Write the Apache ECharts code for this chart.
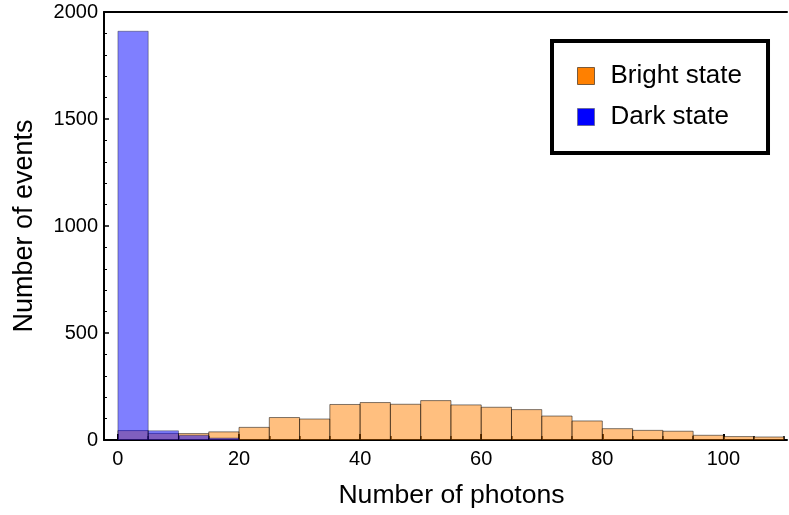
<!DOCTYPE html>
<html>
<head>
<meta charset="utf-8">
<script src="https://cdn.jsdelivr.net/npm/echarts@6/dist/echarts.min.js"></script>
<style>
html,body{margin:0;padding:0;background:#fff;}
#chart{width:789px;height:515px;}
</style>
</head>
<body>
<div id="chart"></div>
<script>
// Histogram bins (photon counts), width 5
var binStarts = [0,5,10,15,20,25,30,35,40,45,50,55,60,65,70,75,80,85,90,95,100,105];
var binWidth = 5;
var brightCounts = [44,31,30,38,59,105,98,166,175,167,184,164,153,142,112,89,53,45,41,22,16,14];
var darkCounts = [1910,43,22,9,0,0,0,0,0,0,0,0,0,0,0,0,0,0,0,0,0,0];
var xMajorTicks = [0,20,40,60,80,100];
var xMinorTicks = [0,5,10,15,20,25,30,35,40,45,50,55,60,65,70,75,80,85,90,95,100,105,110];
var yTicks = [0,500,1000,1500,2000];
var seriesNames = ['Bright state','Dark state'];

var FONT = 'Liberation Sans, Arial, sans-serif';

function histData(counts){
  var out = [];
  for (var i = 0; i < binStarts.length; i++) {
    if (counts[i] > 0) out.push([binStarts[i], binStarts[i] + binWidth, counts[i]]);
  }
  return out;
}

function renderBar(params, api){
  var p0 = api.coord([api.value(0), api.value(2)]);
  var p1 = api.coord([api.value(1), 0]);
  var rect = echarts.graphic.clipRectByRect({
    x: p0[0], y: p0[1], width: p1[0] - p0[0], height: p1[1] - p0[1]
  }, {
    x: params.coordSys.x, y: params.coordSys.y,
    width: params.coordSys.width, height: params.coordSys.height
  });
  return rect && {
    type: 'rect',
    shape: rect,
    style: api.style()
  };
}

var chart = echarts.init(document.getElementById('chart'), null, {renderer: 'canvas'});
var xCommon = {type: 'value', min: -2.3, max: 110.5, gridIndex: 0};
chart.setOption({
  animation: false,
  backgroundColor: '#ffffff',
  grid: {left: 104, right: 2, top: 12, bottom: 75, containLabel: false},
  legend: {
    orient: 'vertical',
    left: 552, top: 41,
    padding: [22, 26, 23, 25],
    itemGap: 15,
    itemWidth: 17, itemHeight: 17,
    borderColor: '#000', borderWidth: 4,
    backgroundColor: '#fff',
    textStyle: {fontFamily: FONT, fontSize: 26, color: '#000', padding: [0,0,0,11]},
    data: [
      {name: seriesNames[0], icon: 'rect', itemStyle: {color: '#ff8000', borderColor: '#7a5a3a', borderWidth: 1}},
      {name: seriesNames[1], icon: 'rect', itemStyle: {color: '#0000ff', borderColor: '#6a6aa0', borderWidth: 1}}
    ]
  },
  xAxis: [
    Object.assign({}, xCommon, {
      position: 'bottom',
      name: 'Number of photons', nameLocation: 'middle', nameGap: 42,
      nameTextStyle: {fontFamily: FONT, fontSize: 26.6, color: '#000', padding: [0,0,0,12]},
      axisLine: {show: true, onZero: false, lineStyle: {color: '#000', width: 2}},
      axisTick: {show: true, inside: true, length: 6, customValues: xMajorTicks, lineStyle: {color: '#000', width: 2}},
      axisLabel: {show: true, customValues: xMajorTicks, margin: 9, fontFamily: FONT, fontSize: 20, color: '#000'},
      splitLine: {show: false}
    }),
    Object.assign({}, xCommon, {
      position: 'bottom',
      axisLine: {show: false, onZero: false},
      axisTick: {show: true, inside: true, length: 4, customValues: xMinorTicks, lineStyle: {color: '#000', width: 1.5}},
      axisLabel: {show: false},
      splitLine: {show: false}
    }),
    Object.assign({}, xCommon, {
      position: 'top',
      axisLine: {show: true, onZero: false, lineStyle: {color: '#000', width: 2}},
      axisTick: {show: false},
      axisLabel: {show: false},
      splitLine: {show: false}
    })
  ],
  yAxis: {
    type: 'value', min: yTicks[0], max: yTicks[yTicks.length - 1], interval: 500,
    name: 'Number of events', nameLocation: 'middle', nameGap: 66,
    nameTextStyle: {fontFamily: FONT, fontSize: 27, color: '#000'},
    axisLine: {show: true, onZero: false, lineStyle: {color: '#000', width: 2}},
    axisTick: {show: true, inside: true, length: 5, lineStyle: {color: '#000', width: 1.5}},
    minorTick: {show: true, splitNumber: 5, length: 3, lineStyle: {color: '#000', width: 1}},
    axisLabel: {margin: 6, fontFamily: FONT, fontSize: 20, color: '#000', formatter: function(v){ return String(v); }},
    splitLine: {show: false}
  },
  series: [
    {
      name: seriesNames[0], type: 'custom', xAxisIndex: 0, yAxisIndex: 0,
      renderItem: renderBar,
      encode: {x: [0, 1], y: 2},
      itemStyle: {color: 'rgba(255,128,0,0.5)', borderColor: 'rgba(0,0,0,0.5)', borderWidth: 1},
      data: histData(brightCounts), z: 2
    },
    {
      name: seriesNames[1], type: 'custom', xAxisIndex: 0, yAxisIndex: 0,
      renderItem: renderBar,
      encode: {x: [0, 1], y: 2},
      itemStyle: {color: 'rgba(0,0,255,0.5)', borderColor: 'rgba(0,0,0,0.35)', borderWidth: 1},
      data: histData(darkCounts), z: 3
    }
  ]
});
</script>
</body>
</html>
